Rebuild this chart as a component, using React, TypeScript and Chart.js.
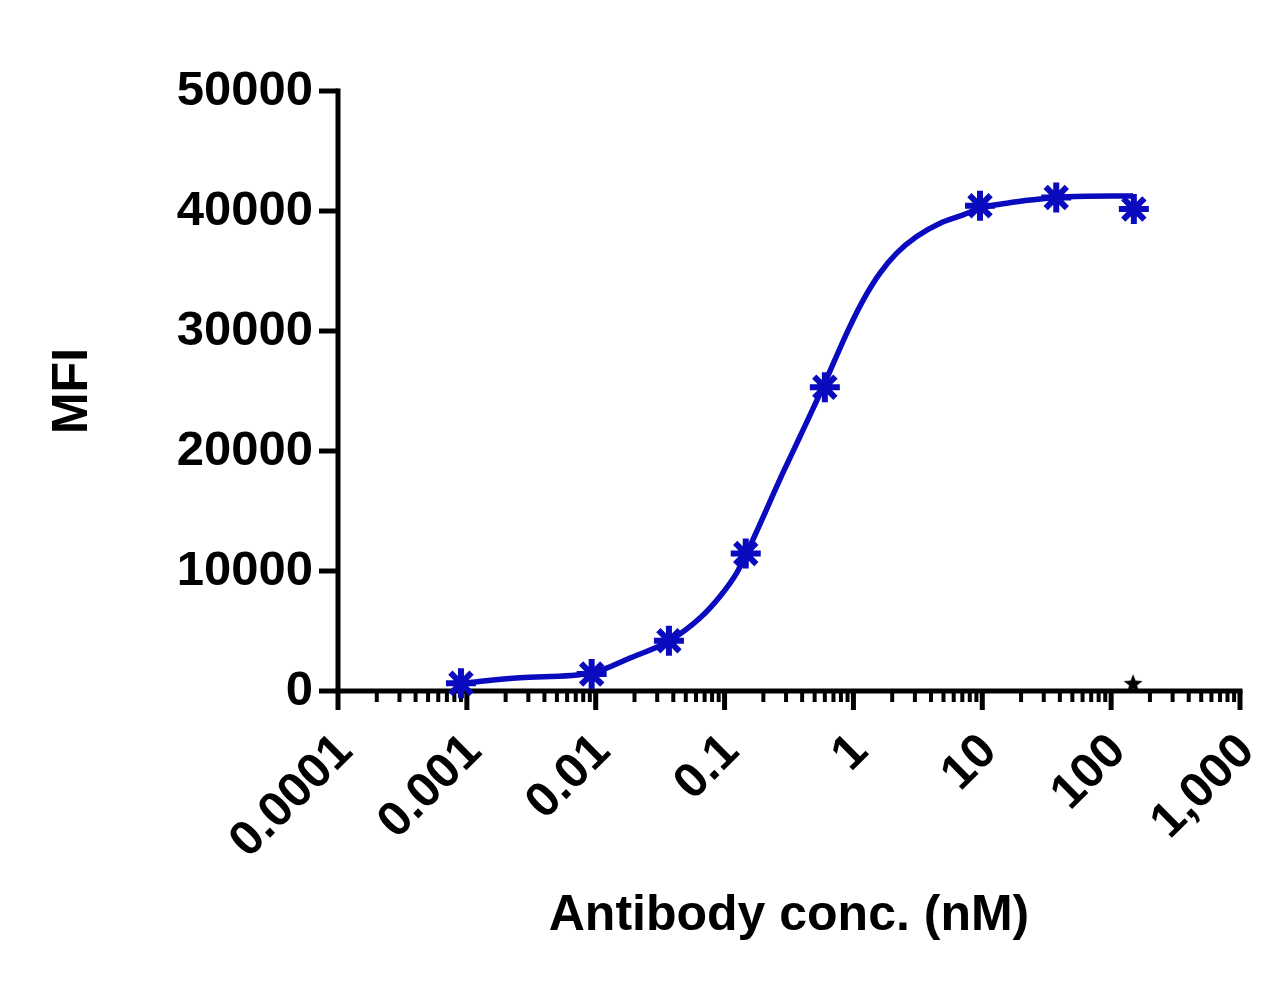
import React, { useRef, useEffect } from 'react';
import { Chart, registerables } from 'chart.js';

Chart.register(...registerables);

// measured points (antibody conc. in nM, MFI)
const concNM = [0.0009, 0.0093, 0.037, 0.146, 0.60, 9.6, 37.5, 150];
const mfiValues = [640, 1410, 4190, 11460, 25320, 40430, 41120, 40160];

// fitted curve
const fitConc = [
  0.000916, 0.00258, 0.0093, 0.01845, 0.0366, 0.0644, 0.092, 0.124, 0.1486,
  0.284, 0.385, 0.581, 0.912, 1.194, 1.607, 2.167, 3.097, 4.7, 7.12, 9.6, 15.5, 24.7, 45.4, 148,
];
const fitMfi = [
  650, 1108, 1500, 2750, 4130, 6080, 7880, 9830, 11500,
  18190, 21210, 25350, 30100, 32600, 34820, 36490, 37870, 38980, 39680, 40230, 40650, 40930, 41180, 41260,
];

// control point (black star)
const controlConc = [148];
const controlMfi = [660];

const xTickValues = [0.0001, 0.001, 0.01, 0.1, 1, 10, 100, 1000];
const xTickLabels = ['0.0001', '0.001', '0.01', '0.1', '1', '10', '100', '1,000'];
const yTickValues = [0, 10000, 20000, 30000, 40000, 50000];

const BLUE = '#0A0ABF';
const FONT = "'Liberation Sans', Arial, sans-serif";

const makeStar = (size: number) => {
  const c = document.createElement('canvas');
  c.width = size;
  c.height = size;
  const g = c.getContext('2d')!;
  const cx = size / 2, cy = size / 2 + 1;
  const outer = size / 2, inner = outer * 0.42;
  g.beginPath();
  for (let i = 0; i < 10; i++) {
    const r = i % 2 === 0 ? outer : inner;
    const a = -Math.PI / 2 + (i * Math.PI) / 5;
    const px = cx + r * Math.cos(a);
    const py = cy + r * Math.sin(a);
    if (i === 0) g.moveTo(px, py); else g.lineTo(px, py);
  }
  g.closePath();
  g.fillStyle = '#000';
  g.fill();
  return c;
};

const axesPlugin = {
  id: 'prismAxes',
  beforeDatasetsDraw(chart: any) {
    const { ctx, scales } = chart;
    const xs = scales.x, ys = scales.y;
    const x0 = xs.getPixelForValue(xTickValues[0]);
    const y0 = ys.getPixelForValue(0);
    ctx.save();
    ctx.strokeStyle = '#000';
    ctx.lineCap = 'butt';

    // y axis
    ctx.lineWidth = 5;
    ctx.beginPath();
    ctx.moveTo(x0, ys.getPixelForValue(50000) - 2.5);
    ctx.lineTo(x0, y0);
    ctx.stroke();
    yTickValues.forEach((v) => {
      const py = ys.getPixelForValue(v);
      ctx.beginPath();
      ctx.moveTo(x0 - 19, py);
      ctx.lineTo(x0, py);
      ctx.stroke();
    });

    // x axis
    ctx.beginPath();
    ctx.moveTo(x0 - 2.5, y0);
    ctx.lineTo(xs.getPixelForValue(1000) + 2.5, y0);
    ctx.stroke();
    xTickValues.forEach((v, i) => {
      const px = xs.getPixelForValue(v);
      ctx.lineWidth = 5;
      ctx.beginPath();
      ctx.moveTo(px, y0);
      ctx.lineTo(px, y0 + 19);
      ctx.stroke();
      if (i < xTickValues.length - 1) {
        ctx.lineWidth = 4;
        for (let m = 2; m <= 9; m++) {
          const pm = xs.getPixelForValue(v * m);
          ctx.beginPath();
          ctx.moveTo(pm, y0);
          ctx.lineTo(pm, y0 + 11);
          ctx.stroke();
        }
      }
    });
    ctx.restore();
  },
};

const App: React.FC = () => {
  const canvasRef = useRef<HTMLCanvasElement>(null);

  useEffect(() => {
    if (!canvasRef.current) return;
    const chart = new Chart(canvasRef.current, {
      type: 'scatter',
      data: {
        datasets: [
          {
            type: 'line',
            label: 'fit',
            data: fitConc.map((x, i) => ({ x, y: fitMfi[i] })),
            borderColor: BLUE,
            borderWidth: 5.5,
            pointRadius: 0,
            cubicInterpolationMode: 'monotone',
            fill: false,
            clip: false,
          } as any,
          {
            label: 'MFI',
            data: concNM.map((x, i) => ({ x, y: mfiValues[i] })),
            pointStyle: 'star',
            pointRadius: 15,
            borderColor: BLUE,
            backgroundColor: BLUE,
            pointBorderWidth: 6,
            clip: false,
          } as any,
          {
            label: 'control',
            data: controlConc.map((x, i) => ({ x, y: controlMfi[i] })),
            pointStyle: makeStar(20),
            pointRadius: 10,
            clip: false,
          } as any,
        ],
      },
      options: {
        responsive: false,
        animation: false,
        devicePixelRatio: 1,
        layout: { padding: { top: 91, right: 31, left: 0, bottom: 0 } },
        plugins: { legend: { display: false }, tooltip: { enabled: false } },
        scales: {
          x: {
            type: 'logarithmic',
            min: 0.0001,
            max: 1000,
            grid: { display: false, drawTicks: false },
            border: { display: false },
            afterBuildTicks: (scale: any) => {
              scale.ticks = xTickValues.map((value) => ({ value }));
            },
            afterFit: (scale: any) => {
              scale.height = 988 - 691;
              scale.paddingLeft = 0;
              scale.paddingRight = 0;
            },
            ticks: {
              autoSkip: false,
              minRotation: 45,
              maxRotation: 45,
              padding: 32,
              labelOffset: 7,
              color: '#000',
              font: { family: FONT, size: 49, weight: 'bold' },
              callback: (_v: any, i: number) => xTickLabels[i],
            },
            title: {
              display: true,
              text: 'Antibody conc. (nM)',
              color: '#000',
              font: { family: FONT, size: 50, weight: 'bold' },
              padding: { top: 0, bottom: 42 },
            },
          },
          y: {
            type: 'linear',
            min: 0,
            max: 50000,
            grid: { display: false, drawTicks: false },
            border: { display: false },
            afterBuildTicks: (scale: any) => {
              scale.ticks = yTickValues.map((value) => ({ value }));
            },
            afterFit: (scale: any) => {
              scale.width = 338;
              scale.paddingTop = 0;
              scale.paddingBottom = 0;
            },
            ticks: {
              padding: 25,
              color: '#000',
              font: { family: FONT, size: 49, weight: 'bold' },
              callback: (v: any) => String(v),
            },
            title: {
              display: true,
              text: 'MFI',
              color: '#000',
              font: { family: FONT, size: 50, weight: 'bold' },
              padding: { top: 43, bottom: 0 },
            },
          },
        },
      },
      plugins: [axesPlugin],
    });
    return () => {
      chart.destroy();
    };
  }, []);

  return (
    <div style={{ position: 'absolute', left: 0, top: 0, width: 1271, height: 988, background: '#fff' }}>
      <canvas ref={canvasRef} width={1271} height={988} />
    </div>
  );
};

export default App;
